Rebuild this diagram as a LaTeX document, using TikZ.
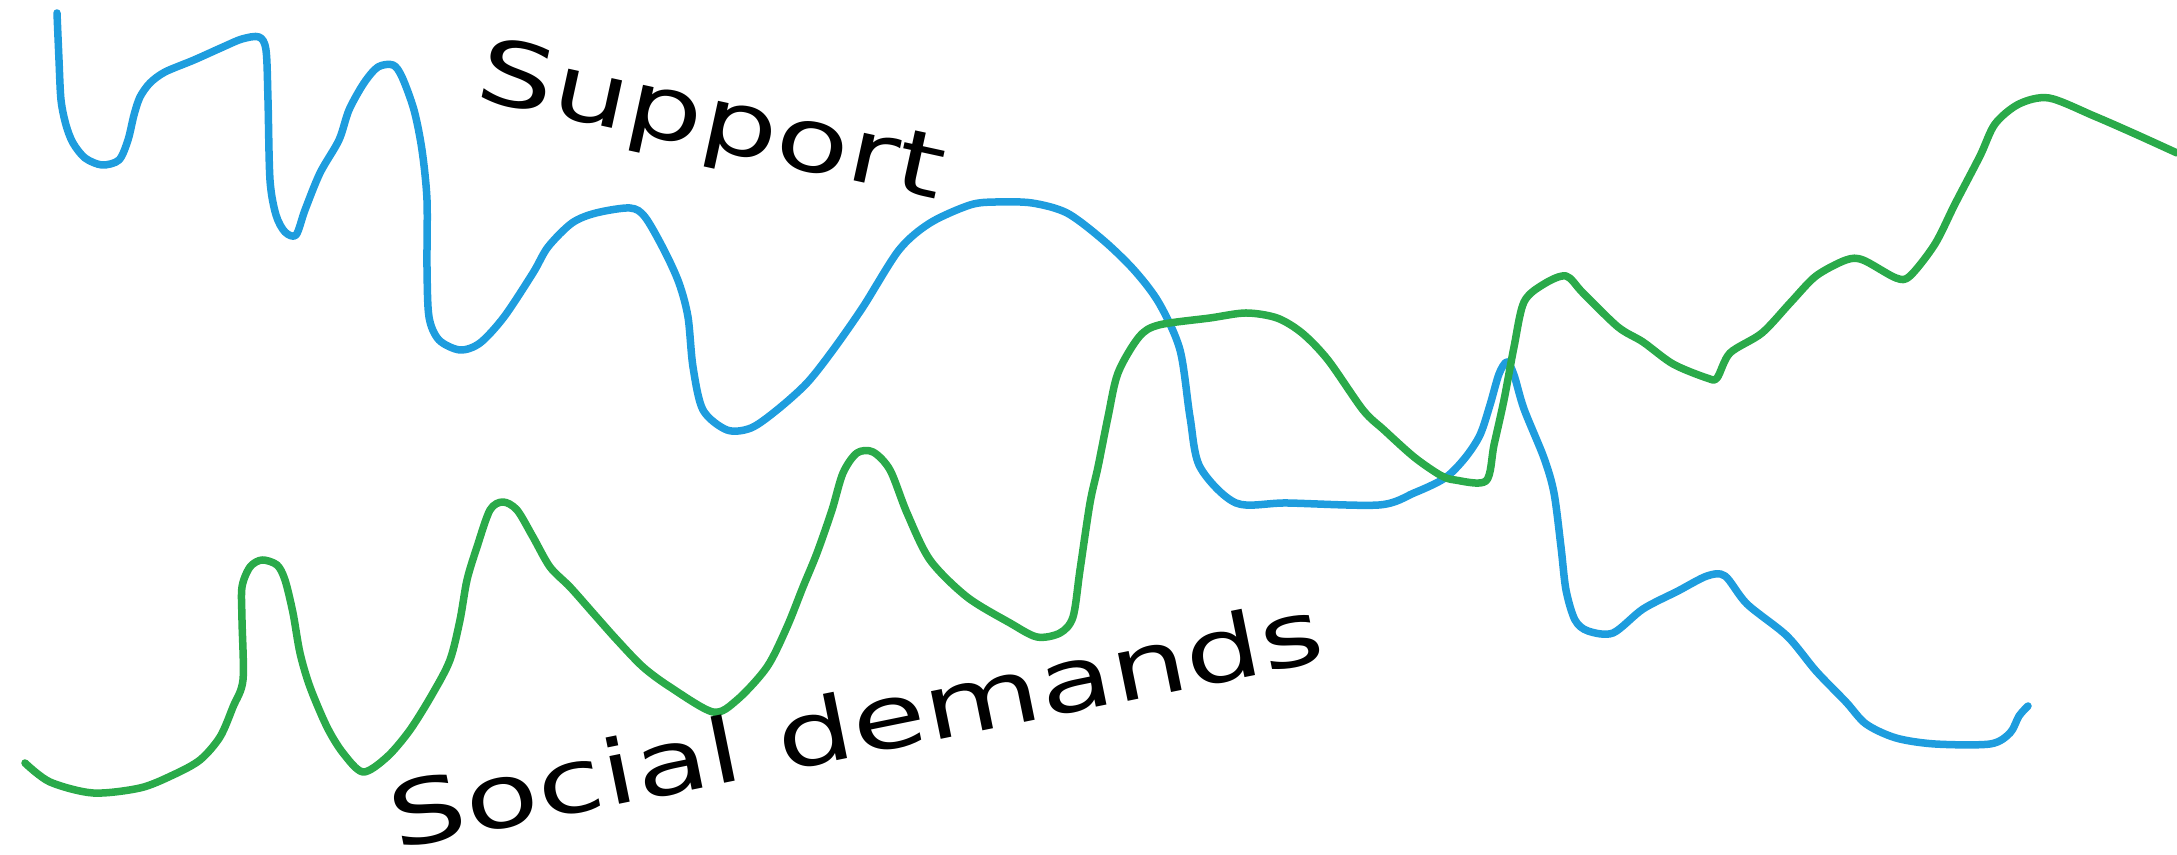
\documentclass[tikz,border=0pt]{standalone}
\usepackage{fontspec}
\setmainfont{DejaVu Sans}
\definecolor{supportblue}{RGB}{30,157,222}
\definecolor{demandgreen}{RGB}{42,170,74}
\begin{document}
\begin{tikzpicture}[
  x=0.01cm, y=0.01cm,
  linetrace/.style = {line width=0.075cm, line cap=round, line join=round, smooth, tension=0.5},
  wordtag/.style = {inner sep=0pt, anchor=base west, font=\fontsize{25.3}{30}\selectfont}
  ]
  \useasboundingbox (0,0) rectangle (2177,855);
  \begin{scope}[shift={(0,855)}, yscale=-1]
    % support
    \draw[linetrace, supportblue] plot coordinates {
      (57,13) (59,60) (61,100) (66,125) (73,143) (85,158) (102,165) (119,160)
      (128,140) (134,115) (140,97) (150,83) (165,72) (194,60) (223,47) (242,39)
      (259,37) (266,50) (268,100) (270,180) (276,215) (285,232) (296,235) (305,210)
      (320,173) (339,140) (349,110) (364,83) (378,67) (393,65) (402,77) (414,110)
      (422,150) (427,200) (427,267) (429,317) (439,340) (460,350) (480,343) (504,317)
      (533,273) (548,247) (572,223) (596,213) (630,208) (645,217) (664,250) (679,283)
      (688,317) (693,367) (703,410) (727,430) (751,428) (777,410) (807,383) (833,350)
      (863,307) (899,250) (930,223) (970,205) (996,202) (1032,203) (1067,213) (1103,240)
      (1134,270) (1159,303) (1180,350) (1190,417) (1200,467) (1236,503) (1287,503) (1379,505)
      (1414,493) (1445,478) (1465,458) (1480,435) (1490,405) (1499,374) (1507,362) (1514,375)
      (1524,409) (1544,458) (1554,493) (1561,547) (1566,590) (1575,620) (1588,631) (1613,633)
      (1643,609) (1678,591) (1707,576) (1725,576) (1747,604) (1787,636) (1816,671) (1846,702)
      (1866,724) (1896,738) (1935,744) (1990,744) (2010,733) (2019,716) (2028,706)};
    % social demands
    \draw[linetrace, demandgreen] plot coordinates {
      (25,763) (50,782) (93,793) (140,788) (173,775) (200,760) (220,737) (233,707)
      (243,680) (242,620) (242,587) (250,567) (262,560) (277,565) (285,580) (293,613)
      (300,653) (310,687) (327,727) (343,753) (363,772) (387,757) (410,730) (433,693)
      (450,660) (460,620) (467,580) (477,547) (490,510) (503,502) (517,510) (533,537)
      (550,567) (570,587) (593,613) (617,640) (643,667) (670,687) (713,712) (737,700)
      (767,667) (787,627) (803,587) (817,553) (832,510) (843,473) (857,453) (873,452)
      (890,470) (907,513) (930,560) (967,597) (1010,623) (1037,637) (1060,633) (1073,617)
      (1080,570) (1090,503) (1098,467) (1108,417) (1118,373) (1139,337) (1159,325) (1210,318)
      (1246,313) (1277,318) (1302,333) (1328,360) (1363,410) (1384,430) (1414,457) (1440,475)
      (1455,480) (1486,481) (1494,445) (1504,400) (1514,347) (1524,302) (1544,284) (1566,276)
      (1583,293) (1618,327) (1643,342) (1673,364) (1707,378) (1717,378) (1730,353) (1762,333)
      (1791,302) (1816,276) (1846,260) (1863,260) (1896,278) (1910,276) (1935,244) (1955,204)
      (1980,156) (1995,124) (2019,104) (2049,98) (2094,116) (2133,133) (2177,153)};
  \end{scope}
  \begin{scope}[shift={(473,757)}]
    \node[wordtag, rotate=-12.3, xscale=1.35] (support) at (0,0) {Support};
  \end{scope}
  \begin{scope}[shift={(396,5)}]
    \node[wordtag, rotate=11.5, xscale=1.35] (demands) at (0,0) {Social demands};
  \end{scope}
\end{tikzpicture}
\end{document}
